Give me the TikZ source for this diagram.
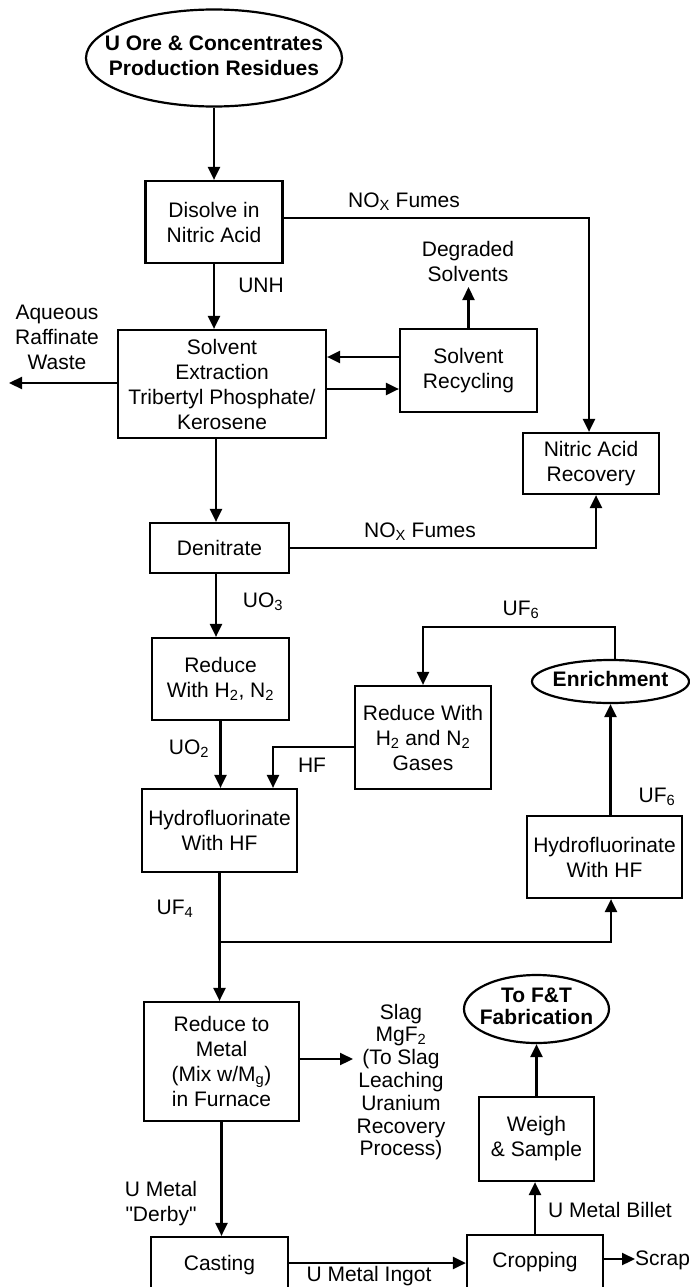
\documentclass[tikz,border=0pt]{standalone}
\usepackage{fontspec}
\setmainfont{Liberation Sans}[Ligatures=TeXOff]
\usetikzlibrary{arrows.meta,shapes.geometric,calc}
\newcommand\ovaltext[1]{\makebox[0pt]{\begin{tabular}{@{}c@{}}#1\end{tabular}}}
\begin{document}
\begin{tikzpicture}[x=1pt,y=-1pt,
  every node/.style={font=\fontsize{21}{25}\selectfont, inner sep=0pt},
  proc/.style={draw, line width=2.2pt, align=center},
  oval/.style={draw, ellipse, line width=2.2pt, font=\fontsize{21}{25}\selectfont\bfseries},
  lab/.style={align=center},
  flow/.style={line width=2.2pt},
  arr/.style={flow, -{Triangle[length=13pt,width=12pt]}},
]
\useasboundingbox (0,0) rectangle (690,1287);
\fill[white] (0,0) rectangle (690,1287);
\clip (0,0) rectangle (690,1287);

% process nodes
\node[oval, minimum width=256pt, minimum height=97pt] (ore) at (214,58) {\ovaltext{U Ore \& Concentrates\\Production Residues}};
\node[proc, minimum width=137pt, minimum height=82pt] (dis) at (214,222) {Disolve in\\Nitric Acid};
\node[proc, minimum width=208pt, minimum height=108pt] (se) at (222,384) {Solvent\\Extraction\\Tribertyl Phosphate/\\Kerosene};
\node[proc, minimum width=137pt, minimum height=83pt] (sr) at (468.5,370.5) {Solvent\\Recycling};
\node[proc, minimum width=136pt, minimum height=61pt] (nar) at (591,463.5) {Nitric Acid\\Recovery};
\node[proc, minimum width=139pt, minimum height=50pt] (den) at (219.5,548) {Denitrate};
\node[proc, minimum width=137pt, minimum height=82pt] (red) at (220.5,679) {Reduce\\With H\textsubscript{2}, N\textsubscript{2}};
\node[proc, minimum width=136pt, minimum height=103pt] (rw) at (423,737.5) {Reduce With\\H\textsubscript{2} and N\textsubscript{2}\\Gases};
\node[oval, minimum width=157pt, minimum height=43pt] (enr) at (610.5,681.5) {\ovaltext{Enrichment}};
\node[proc, minimum width=155pt, minimum height=83pt] (hf1) at (219.5,830.5) {Hydrofluorinate\\With HF};
\node[proc, minimum width=155pt, minimum height=82pt] (hf2) at (604.5,857) {Hydrofluorinate\\With HF};
\node[proc, minimum width=155pt, minimum height=119pt] (rtm) at (221.5,1061.5) {Reduce to\\Metal\\(Mix w/M\textsubscript{g})\\in Furnace};
\node[oval, minimum width=145pt, minimum height=68pt, font=\fontsize{21}{22}\selectfont\bfseries] (fab) at (536.5,1009) {\ovaltext{To F\&T\\Fabrication}};
\node[proc, minimum width=115pt, minimum height=84pt] (ws) at (536.5,1139) {Weigh\\\& Sample};
\node[proc, minimum width=137pt, minimum height=56pt] (cast) at (219.5,1265) {Casting};
\node[proc, minimum width=136pt, minimum height=54pt] (crop) at (535,1262) {Cropping};

% labels
\node[lab] (nox1) at (404,202) {NO\textsubscript{X} Fumes};
\node[lab] (unh) at (261,285) {UNH};
\node[lab] (deg) at (468,261) {Degraded\\Solvents};
\node[lab] (aq) at (57,337) {Aqueous\\Raffinate\\Waste};
\node[lab] (nox2) at (420,532) {NO\textsubscript{X} Fumes};
\node[lab] (uo3) at (263,602) {UO\textsubscript{3}};
\node[lab] (uf6a) at (521,610) {UF\textsubscript{6}};
\node[lab] (uo2) at (189,749) {UO\textsubscript{2}};
\node[lab] (hflab) at (312,765) {HF};
\node[lab] (uf4) at (175,909) {UF\textsubscript{4}};
\node[lab] (uf6b) at (657,797) {UF\textsubscript{6}};
\node[lab, font=\fontsize{21}{22.8}\selectfont] (slag) at (401,1082) {Slag\\MgF\textsubscript{2}\\(To Slag\\Leaching\\Uranium\\Recovery\\Process)};
\node[lab] (derby) at (161,1204) {U Metal\\"Derby"};
\node[lab] (billet) at (610,1210) {U Metal Billet};
\node[lab] (ingot) at (369,1276) {U Metal Ingot};
\node[lab, anchor=west] (scrap) at (635,1260) {Scrap};

% free ends and corners
\coordinate (aqend) at (9,383);
\coordinate (degend) at (468.5,287);
\coordinate (uftop) at (0,627);
\coordinate (junc) at (219.5,942);
\coordinate (slagend) at (353,1059);

% connectors
\draw[arr] (ore.south) -- (dis.north);
\draw[arr] ([yshift=4pt]dis.east) -| ([xshift=-2pt]nar.north);
\draw[arr] (dis.south) -- (dis.south |- se.north);
\draw[arr] (se.west |- aqend) -- (aqend);
\draw[arr] ([yshift=13.5pt]sr.west) -- ([yshift=13.5pt]sr.west -| se.east);
\draw[arr] ([yshift=-5pt]se.east) -- ([yshift=-5pt]se.east -| sr.west);
\draw[arr] (sr.north) -- (degend);
\draw[arr] ([xshift=-3.5pt]den.north |- se.south) -- ([xshift=-3.5pt]den.north);
\draw[arr] (den.east) -| ([xshift=5pt]nar.south);
\draw[arr] ([xshift=-3.5pt]den.south) -- ([xshift=-3.5pt]den.south |- red.north);
\draw[arr] ([xshift=4.5pt]enr.north) |- (uftop -| rw.north) -- (rw.north);
\draw[arr] (red.south) -- (red.south |- hf1.north);
\draw[arr] ([yshift=-9.5pt]rw.west) -| ([xshift=53.5pt]hf1.north);
\draw[flow] (hf1.south) -- (junc);
\draw[arr] (junc) -- (junc |- rtm.north);
\draw[arr] (junc) -| ([xshift=6.5pt]hf2.south);
\draw[arr] (enr.south |- hf2.north) -- (enr.south);
\draw[arr] (rtm.east |- slagend) -- (slagend);
\draw[arr] (rtm.south) -- (rtm.south |- cast.north);
\draw[arr] ([yshift=2pt]cast.east) -- ([yshift=2pt]cast.east -| crop.west);
\draw[arr] (crop.north) -- (crop.north |- ws.south);
\draw[arr] (ws.north) -- (fab.south);
\draw[arr] ([yshift=3pt]crop.east) -- ([yshift=3pt]crop.east -| scrap.west);
\end{tikzpicture}
\end{document}
